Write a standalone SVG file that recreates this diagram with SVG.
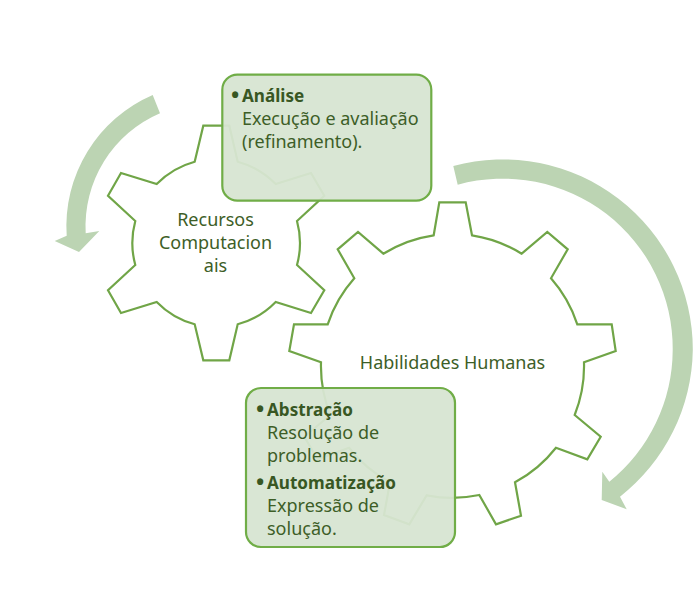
<svg xmlns="http://www.w3.org/2000/svg" width="693" height="600" viewBox="0 0 693 600">
<style>
text{font-family:"Noto Sans","Open Sans",sans-serif;font-size:18px;fill:#3d5e27}
.b{font-weight:700;font-size:17.1px;fill:#385723}
.d{font-weight:700;font-size:22px;fill:#385723}
.c{text-anchor:middle}
.gear{fill:#fff;stroke:#70a547;stroke-width:2.2;stroke-linejoin:miter}
.boxfill{fill:#d7e5d2;fill-opacity:.95;stroke:none}
.boxline{fill:none;stroke:#70ad47;stroke-width:2.2}
.arrow{fill:#bcd4b3}
</style>
<rect width="693" height="600" fill="#fff"/>
<g id="gear-recursos">
<path class="gear" d="M203.3 125.7L229.3 125.7L237.7 161.7A83.5 83.5 0 0 1 275.7 184L311 173L324.3 195.7L297 221A83.5 83.5 0 0 1 297 265L324.3 290.3L311 313L275.7 302A83.5 83.5 0 0 1 237.7 324.3L229.3 360.3L203.3 360.3L194.7 324.3A83.5 83.5 0 0 1 156.7 302L121 313L108 290.3L135.3 265A83.5 83.5 0 0 1 135.3 221L108 195.7L121 173L156.7 184A83.5 83.5 0 0 1 194.7 161.7Z"/>
<text class="c" x="215.5" y="225.7">Recursos</text>
<text class="c" x="215.5" y="249">Computacion</text>
<text class="c" x="215.5" y="271.7">ais</text>
</g>
<g id="gear-habilidades">
<path class="gear" d="M439.3 202.3L465.7 202.3L472 235.3A132 132 0 0 1 521.7 253.7L547.3 232L567.7 249.3L551 278.3A132 132 0 0 1 577.3 324.3L611.7 324.3L615.7 351L584 362.3A132 132 0 0 1 574.7 415L600.7 436.7L587.3 459.3L556 447.7A132 132 0 0 1 515 482.3L521 515.7L496 524.3L479.3 495A132 132 0 0 1 426.7 495.3L409.3 524.3L384 515L390 482.3A132 132 0 0 1 349 447.7L317.7 459.3L304.3 436.7L330.3 415A132 132 0 0 1 321 362.3L289.3 351L294 324.3L327.7 324.3A132 132 0 0 1 354.3 278.3L337.7 249.3L358 232L383.3 253.7A132 132 0 0 1 433.7 235.3Z"/>
<text class="c" x="452.5" y="369">Habilidades Humanas</text>
</g>
<g id="connectors">
<path class="arrow" d="M152.7 95L160 113.3A123 123 0 0 0 85.7 233.3L99.3 231L79 252L54.7 241L66.7 235.7A143 143 0 0 1 152.7 95Z"/>
<path class="arrow" d="M453.3 166L457.7 184.7A170 170 0 0 1 672.7 350A170 170 0 0 1 609.3 481.7L602.3 471.7L601.7 500L626.7 509.3L620 496.7A190 190 0 0 0 692.8 350A190 190 0 0 0 453.3 166Z"/>
</g>
<g id="box-analise">
<rect class="boxfill" x="222.3" y="74.7" width="209" height="126" rx="15"/>
<rect class="boxline" x="222.3" y="74.7" width="209" height="126" rx="15"/>
<text class="d" x="231" y="103">•</text>
<text class="b" x="242" y="101.7">Análise</text>
<text x="242" y="124.7">Execução e avaliação</text>
<text x="242" y="147.7">(refinamento).</text>
</g>
<g id="box-abstracao">
<rect class="boxfill" x="246" y="388" width="209" height="159" rx="15"/>
<rect class="boxline" x="246" y="388" width="209" height="159" rx="15"/>
<text class="d" x="256" y="417">•</text>
<text class="b" x="267" y="415.7">Abstração</text>
<text x="267" y="439">Resolução de</text>
<text x="267" y="462">problemas.</text>
<text class="d" x="256" y="490">•</text>
<text class="b" x="267" y="488.5">Automatização</text>
<text x="267" y="511.7">Expressão de</text>
<text x="267" y="535">solução.</text>
</g>
</svg>
